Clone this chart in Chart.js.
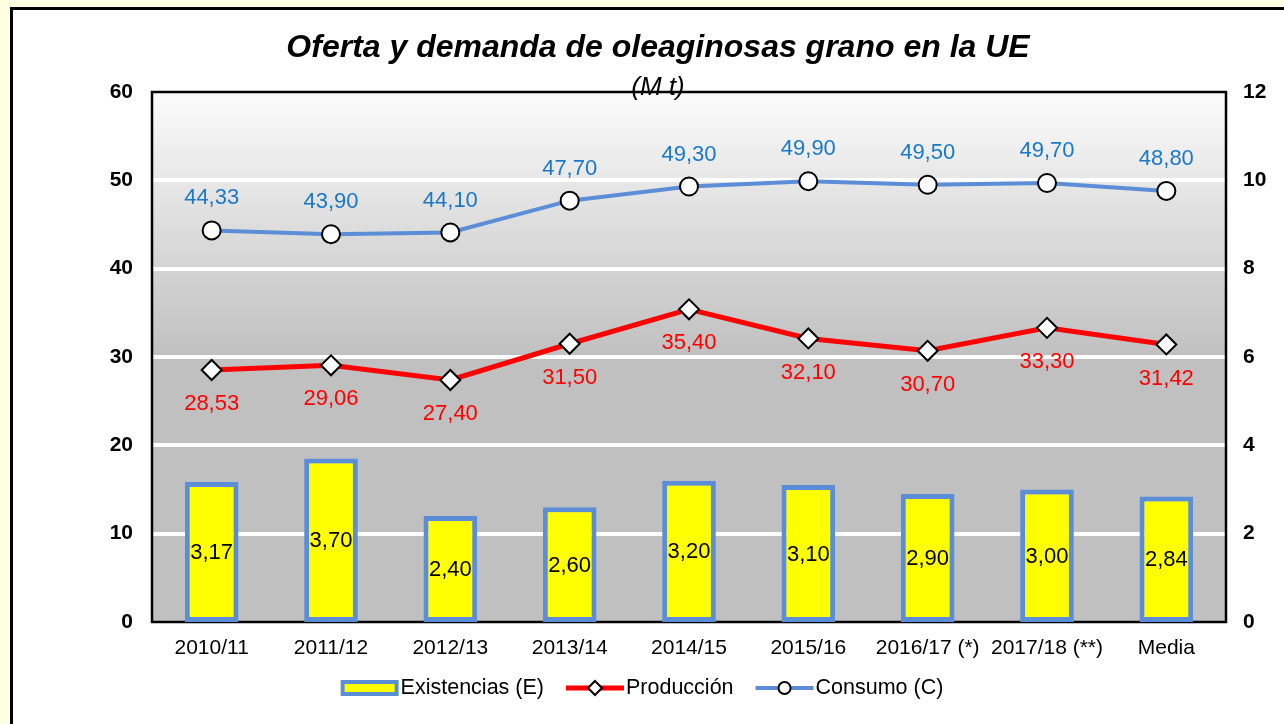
<!DOCTYPE html>
<html>
<head>
<meta charset="utf-8">
<script src="https://cdn.jsdelivr.net/npm/chart.js@4"></script>
<style>
html, body { margin: 0; padding: 0; background: #ffffe2; overflow: hidden; }
#marco { position: absolute; left: 10px; top: 7px; width: 1400px; height: 800px; border: 3px solid #000; background: #fff; }
#caja { position: absolute; left: 0; top: 0; width: 1284px; height: 724px; }
</style>
</head>
<body>
<div id="marco"></div>
<div id="caja"><canvas id="grafico" width="1284" height="724"></canvas></div>
<script>
const campanas = ['2010/11', '2011/12', '2012/13', '2013/14', '2014/15', '2015/16', '2016/17 (*)', '2017/18 (**)', 'Media'];
const existencias = [3.17, 3.70, 2.40, 2.60, 3.20, 3.10, 2.90, 3.00, 2.84];
const produccion = [28.53, 29.06, 27.40, 31.50, 35.40, 32.10, 30.70, 33.30, 31.42];
const consumo = [44.33, 43.90, 44.10, 47.70, 49.30, 49.90, 49.50, 49.70, 48.80];

const FUENTE = '"Liberation Sans", Arial, sans-serif';
const AZUL = '#5b8ed6';

function coma(v) {
    return v.toFixed(2).replace('.', ',');
}

// fondo degradado del area de trazado
const fondoPlugin = {
    id: 'fondo',
    beforeDraw(chart) {
        const { ctx, chartArea: a } = chart;
        const g = ctx.createLinearGradient(0, a.top, 0, a.bottom);
        g.addColorStop(0, '#fbfbfb');
        g.addColorStop(0.5, '#c0c0c0');
        g.addColorStop(1, '#c0c0c0');
        ctx.save();
        ctx.fillStyle = g;
        ctx.fillRect(a.left, a.top, a.right - a.left, a.bottom - a.top);
        ctx.restore();
    },
    beforeDatasetsDraw(chart) {
        const { ctx, chartArea: a } = chart;
        ctx.save();
        ctx.strokeStyle = '#000';
        ctx.lineWidth = 2.5;
        ctx.strokeRect(a.left, a.top, a.right - a.left, a.bottom - a.top);
        ctx.restore();
    }
};

// etiquetas de valores
const etiquetasPlugin = {
    id: 'etiquetas',
    afterDatasetsDraw(chart) {
        const ctx = chart.ctx;
        ctx.save();
        ctx.textAlign = 'center';
        ctx.textBaseline = 'middle';
        ctx.font = '22px ' + FUENTE;
        chart.data.datasets.forEach((ds, i) => {
            const meta = chart.getDatasetMeta(i);
            meta.data.forEach((el, j) => {
                const txt = coma(ds.data[j]);
                if (ds.type === 'bar') {
                    ctx.fillStyle = '#000';
                    ctx.fillText(txt, el.x, (el.y + el.base) / 2 + 1);
                } else if (ds.label === 'Producción') {
                    ctx.fillStyle = '#ff0000';
                    ctx.fillText(txt, el.x, el.y + 34);
                } else {
                    ctx.fillStyle = '#1a78c8';
                    ctx.fillText(txt, el.x, el.y - 32);
                }
            });
        });
        ctx.restore();
    }
};

// titulo y leyenda
const textosPlugin = {
    id: 'textos',
    afterDraw(chart) {
        const ctx = chart.ctx;
        ctx.save();
        ctx.fillStyle = '#000';
        ctx.textAlign = 'center';
        ctx.textBaseline = 'middle';
        ctx.font = 'italic bold 32px ' + FUENTE;
        ctx.fillText('Oferta y demanda de oleaginosas grano en la UE', 658, 48);
        ctx.font = 'italic 26px ' + FUENTE;
        ctx.fillText('(M t)', 658, 88);

        // leyenda
        ctx.font = '21.5px ' + FUENTE;
        ctx.textAlign = 'left';
        const items = chart.data.datasets.slice().sort((a, b) => b.order - a.order);
        const simb = 58, hueco = 2, sep = 22;
        let total = 0;
        items.forEach(d => { total += simb + hueco + ctx.measureText(d.label).width; });
        total += sep * (items.length - 1);
        let x = 642 - total / 2;
        const y = 688;
        items.forEach(d => {
            if (d.type === 'bar') {
                ctx.fillStyle = d.backgroundColor;
                ctx.strokeStyle = d.borderColor;
                ctx.lineWidth = 4;
                ctx.fillRect(x + 2, y - 6, simb - 4, 12);
                ctx.strokeRect(x + 2, y - 6, simb - 4, 12);
            } else {
                ctx.strokeStyle = d.borderColor;
                ctx.lineWidth = d.borderWidth;
                ctx.beginPath();
                ctx.moveTo(x, y);
                ctx.lineTo(x + simb, y);
                ctx.stroke();
                ctx.fillStyle = '#fff';
                ctx.strokeStyle = '#000';
                ctx.lineWidth = 2;
                Chart.helpers.drawPoint(ctx, {
                    pointStyle: d.pointStyle,
                    rotation: 0,
                    borderWidth: 2,
                    radius: d.pointStyle === 'rectRot' ? 7 : 6
                }, x + simb / 2, y);
            }
            x += simb + hueco;
            ctx.fillStyle = '#000';
            ctx.fillText(d.label, x, y);
            x += ctx.measureText(d.label).width + sep;
        });
        ctx.restore();
    }
};

new Chart(document.getElementById('grafico'), {
    data: {
        labels: campanas,
        datasets: [
            {
                type: 'line',
                label: 'Consumo (C)',
                data: consumo,
                yAxisID: 'y',
                borderColor: AZUL,
                borderWidth: 4,
                pointStyle: 'circle',
                pointRadius: 9,
                pointBackgroundColor: '#fff',
                pointBorderColor: '#000',
                pointBorderWidth: 2,
                order: 1
            },
            {
                type: 'line',
                label: 'Producción',
                data: produccion,
                yAxisID: 'y',
                borderColor: '#ff0000',
                borderWidth: 5,
                pointStyle: 'rectRot',
                pointRadius: 10,
                pointBackgroundColor: '#fff',
                pointBorderColor: '#000',
                pointBorderWidth: 2,
                order: 2
            },
            {
                type: 'bar',
                label: 'Existencias (E)',
                data: existencias,
                yAxisID: 'y1',
                backgroundColor: '#ffff00',
                borderColor: AZUL,
                borderWidth: 5,
                borderSkipped: false,
                barPercentage: 0.45,
                categoryPercentage: 1,
                order: 3
            }
        ]
    },
    options: {
        responsive: false,
        animation: false,
        layout: { padding: { top: 92, left: 0, right: 0, bottom: 0 } },
        plugins: {
            legend: { display: false },
            tooltip: { enabled: false }
        },
        scales: {
            x: {
                grid: { display: false, drawTicks: false },
                border: { display: false },
                ticks: { color: '#000', font: { family: FUENTE, size: 21 }, padding: 14, maxRotation: 0, autoSkip: false },
                afterFit(s) { s.height = 102; }
            },
            y: {
                position: 'left',
                min: 0, max: 60,
                ticks: { stepSize: 10, color: '#000', font: { family: FUENTE, size: 21, weight: 'bold' }, padding: 19 },
                grid: {
                    drawTicks: false,
                    lineWidth: 4,
                    color: c => (c.tick && (c.tick.value === 0 || c.tick.value === 60)) ? 'rgba(0,0,0,0)' : '#ffffff'
                },
                border: { display: false },
                afterFit(s) { s.width = 152; }
            },
            y1: {
                position: 'right',
                min: 0, max: 12,
                ticks: { stepSize: 2, color: '#000', font: { family: FUENTE, size: 21, weight: 'bold' }, padding: 17 },
                grid: { display: false, drawTicks: false },
                border: { display: false },
                afterFit(s) { s.width = 58; }
            }
        }
    },
    plugins: [fondoPlugin, etiquetasPlugin, textosPlugin]
});
</script>
</body>
</html>
